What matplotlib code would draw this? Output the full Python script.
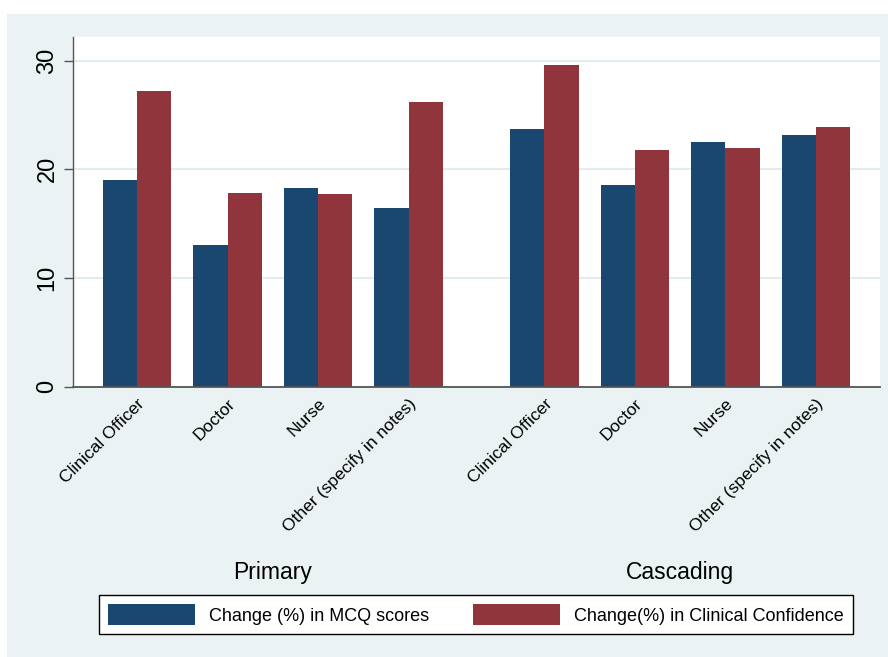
import matplotlib
matplotlib.use("Agg")
import matplotlib.pyplot as plt
import numpy as np
from matplotlib.patches import Rectangle
from matplotlib.transforms import blended_transform_factory

plt.rcParams["font.family"] = ["Liberation Sans", "DejaVu Sans"]

# Data: change in scores by cadre, for the two training arms
groups = ["Primary", "Cascading"]
cadres = ["Clinical Officer", "Doctor", "Nurse", "Other (specify in notes)"]
mcq_primary = [19.0, 13.0, 18.3, 16.4]
conf_primary = [27.2, 17.8, 17.7, 26.2]
mcq_cascading = [23.7, 18.6, 22.5, 23.2]
conf_cascading = [29.6, 21.8, 22.0, 23.9]
series_labels = ["Change (%) in MCQ scores", "Change(%) in Clinical Confidence"]
yticks = [0, 10, 20, 30]

NAVY = "#1a476f"
MAROON = "#90353b"
PANEL = "#eaf2f3"

W, H = 888, 657
fig = plt.figure(figsize=(W / 100, H / 100), dpi=100, facecolor="white")

# light graph region behind everything
fig.add_artist(Rectangle((7 / W, 0), 1 - 7 / W, (H - 14) / H,
                         transform=fig.transFigure, facecolor=PANEL,
                         edgecolor="none", zorder=-10))

ax = fig.add_axes([73 / W, (H - 386.7) / H, (880 - 73) / W, (386.7 - 37) / H])
ax.set_facecolor("white")

# category positions: two blocks of four, with a wider gap between blocks
n = len(cadres)
gap = 1.5
pos_primary = np.arange(n, dtype=float)
pos_cascading = pos_primary + (n - 1) + gap
positions = np.concatenate([pos_primary, pos_cascading])
mcq = mcq_primary + mcq_cascading
conf = conf_primary + conf_cascading

bw = 0.38
ax.bar(positions - bw / 2, mcq, width=bw, color=NAVY, label=series_labels[0], zorder=2)
ax.bar(positions + bw / 2, conf, width=bw, color=MAROON, label=series_labels[1], zorder=2)

ax.set_xlim(positions[0] - 0.707, positions[-1] + 0.707)
ax.set_ylim(0, 32.17)

ax.set_yticks(yticks)
ax.set_yticklabels([str(t) for t in yticks], rotation=90, va="center", fontsize=17)
ax.tick_params(axis="y", length=6.5, width=1, color="#555555", pad=4)
ax.yaxis.grid(True, color="#e3eced", linewidth=1.5)
ax.set_axisbelow(True)

ax.set_xticks(positions)
ax.set_xticklabels(cadres * 2, rotation=45, ha="right", rotation_mode="anchor",
                   fontsize=12.6)
ax.tick_params(axis="x", length=0, pad=6.5)

for side in ("top", "right"):
    ax.spines[side].set_visible(False)
ax.spines["left"].set_color("#555555")
ax.spines["bottom"].set_color("#555555")
ax.spines["left"].set_linewidth(1.0)
ax.spines["bottom"].set_linewidth(1.3)

# group titles under each block of categories
tr = blended_transform_factory(ax.transData, fig.transFigure)
centers = [pos_primary.mean(), pos_cascading.mean()]
for c, g in zip(centers, groups):
    ax.text(c, (H - 579) / H, g, transform=tr, ha="center", va="baseline",
            fontsize=16.5, color="black")

leg = ax.legend(loc="center", ncol=2, mode="expand",
                bbox_to_anchor=(99 / W, (H - 636) / H, (853 - 99) / W, 43 / H),
                bbox_transform=fig.transFigure, fontsize=13, frameon=True,
                fancybox=False, edgecolor="black", facecolor="white",
                framealpha=1, handlelength=4.8, handleheight=1.35,
                handletextpad=0.8, borderpad=0.5, borderaxespad=0)
leg.get_frame().set_linewidth(1.0)

fig.savefig("out.png", dpi=100, facecolor=fig.get_facecolor())
